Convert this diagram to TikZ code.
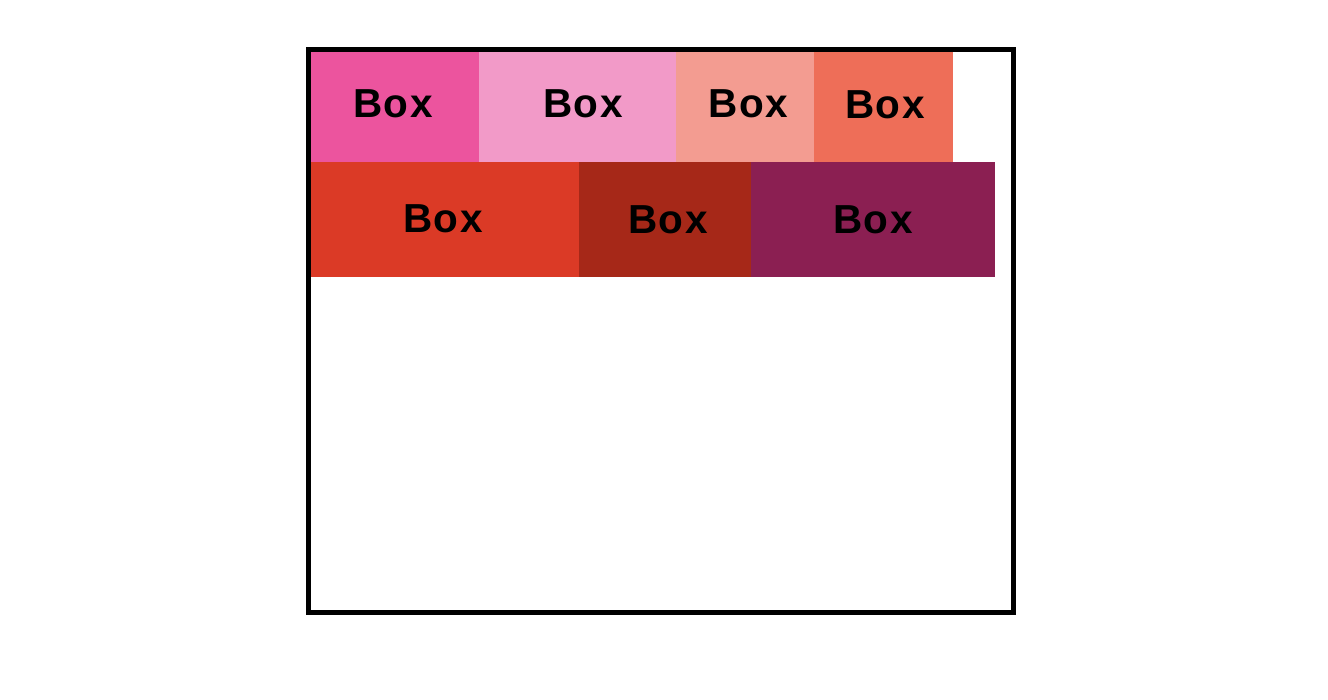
\documentclass[tikz,border=0pt]{standalone}
\usepackage{fontspec}
\setmainfont{Liberation Sans}[LetterSpace=4]
\definecolor{cA}{HTML}{EC549E}
\definecolor{cB}{HTML}{F29AC8}
\definecolor{cC}{HTML}{F39C91}
\definecolor{cD}{HTML}{EE6E58}
\definecolor{cE}{HTML}{DB3A26}
\definecolor{cF}{HTML}{A62818}
\definecolor{cG}{HTML}{8B1F52}
\tikzset{
  lbl/.style={inner sep=0pt, anchor=base, font=\fontsize{40.5pt}{48pt}\selectfont\bfseries, text=black},
}
\begin{document}
\begin{tikzpicture}[x=1pt,y=-1pt]
\useasboundingbox (0,0) rectangle (1328,700);
% row 1
\fill[cA] (311,52) rectangle (479,162);
\fill[cB] (479,52) rectangle (676,162);
\fill[cC] (676,52) rectangle (814,162);
\fill[cD] (814,52) rectangle (953,162);
% row 2
\fill[cE] (311,162) rectangle (579,277);
\fill[cF] (579,162) rectangle (751,277);
\fill[cG] (751,162) rectangle (995,277);
% frame
\draw[line width=4.7pt] (308.5,49.5) rectangle (1013.3,612.3);
% labels
\node[lbl] (t1) at (393,117.3) {Box};
\node[lbl] (t2) at (583,117.3) {Box};
\node[lbl] (t3) at (748.5,117.5) {Box};
\node[lbl] (t4) at (885,119) {Box};
\node[lbl] (t5) at (443,232.3) {Box};
\node[lbl] (t6) at (668,233.3) {Box};
\node[lbl] (t7) at (873,234) {Box};
\end{tikzpicture}
\end{document}
